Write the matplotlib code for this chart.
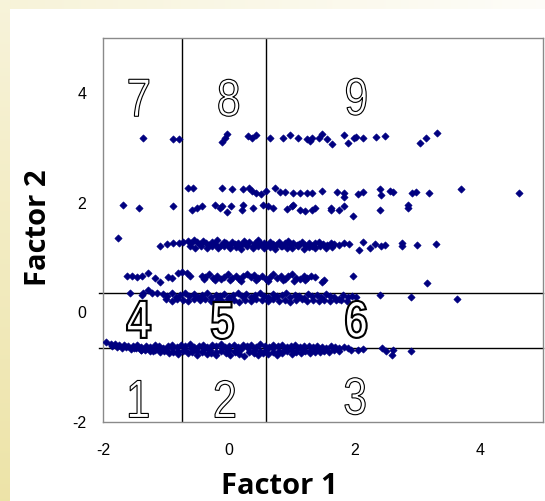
import numpy as np
import matplotlib
matplotlib.use("Agg")
import matplotlib.pyplot as plt
from matplotlib.textpath import TextPath
from matplotlib.patches import PathPatch
from matplotlib.font_manager import FontProperties
from matplotlib.transforms import Affine2D, ScaledTranslation

plt.rcParams["axes.unicode_minus"] = False

# ---------------- data ----------------
band_32 = [(-1.37, 3.18), (-0.89, 3.15), (-0.79, 3.15), (-0.10, 3.11), (-0.06, 3.18), (-0.02, 3.25),
           (0.30, 3.22), (0.37, 3.18), (0.43, 3.24), (0.65, 3.18), (0.86, 3.18), (0.97, 3.24),
           (1.11, 3.18), (1.24, 3.16), (1.29, 3.13), (1.32, 3.18), (1.44, 3.18), (1.49, 3.25),
           (1.57, 3.16), (1.64, 3.07), (1.84, 3.24), (1.90, 3.09), (2.00, 3.18), (2.03, 3.20),
           (2.14, 3.18), (2.35, 3.20), (2.49, 3.22), (3.05, 3.09), (3.14, 3.18), (3.32, 3.27)]

band_22 = [(-0.64, 2.27), (-0.57, 2.27), (-0.10, 2.27), (0.06, 2.25), (0.22, 2.24), (0.32, 2.27),
           (0.37, 2.22), (0.44, 2.18), (0.52, 2.16), (0.59, 2.22), (0.73, 2.27), (0.81, 2.20),
           (0.89, 2.20), (1.02, 2.18), (1.13, 2.18), (1.25, 2.18), (1.32, 2.18), (1.48, 2.22),
           (1.73, 2.20), (1.84, 2.18), (1.84, 2.11), (2.05, 2.16), (2.13, 2.20), (2.41, 2.24),
           (2.43, 2.13), (2.57, 2.22), (2.62, 2.20), (2.92, 2.18), (2.98, 2.20), (3.19, 2.18),
           (3.70, 2.24), (4.62, 2.18)]

band_19 = [(-1.68, 1.96), (-1.43, 1.91), (-0.89, 1.93), (-0.59, 1.86), (-0.51, 1.91), (-0.43, 1.93),
           (-0.22, 1.96), (-0.14, 1.91), (-0.10, 1.93), (-0.02, 1.82), (0.03, 1.93), (0.21, 1.87),
           (0.22, 1.95), (0.38, 1.91), (0.54, 1.96), (0.62, 1.93), (0.70, 1.91), (0.92, 1.89),
           (1.00, 1.93), (1.03, 1.96), (1.14, 1.86), (1.21, 1.84), (1.33, 1.87), (1.37, 1.91),
           (1.62, 1.91), (1.63, 1.86), (1.75, 1.86), (1.84, 1.93), (1.97, 1.75), (2.40, 1.86),
           (2.86, 1.91), (2.86, 1.95)]

band_12 = [(-1.76, 1.35), (-1.10, 1.20), (-0.98, 1.24), (-0.89, 1.27), (-0.79, 1.27), (-0.73, 1.29),
           (-0.65, 1.30), (-0.60, 1.26), (-0.55, 1.32), (-0.50, 1.28), (-0.46, 1.24), (-0.41, 1.30),
           (-0.36, 1.27), (-0.32, 1.22), (-0.27, 1.29), (-0.22, 1.25), (-0.18, 1.31), (-0.13, 1.23),
           (-0.08, 1.28), (-0.04, 1.26), (0.01, 1.21), (0.05, 1.29), (0.10, 1.24), (0.15, 1.27),
           (0.19, 1.22), (0.24, 1.30), (0.28, 1.25), (0.33, 1.28), (0.38, 1.21), (0.42, 1.26),
           (0.47, 1.31), (0.52, 1.24), (0.56, 1.27), (0.61, 1.22), (0.66, 1.29), (0.70, 1.25),
           (0.75, 1.23), (0.80, 1.28), (0.84, 1.20), (0.89, 1.26), (0.94, 1.30), (0.98, 1.24),
           (1.03, 1.27), (1.08, 1.22), (1.12, 1.25), (1.17, 1.29), (1.22, 1.23), (1.27, 1.27),
           (1.32, 1.21), (1.38, 1.26), (1.44, 1.28), (1.50, 1.24), (1.56, 1.22), (1.62, 1.27),
           (1.68, 1.25), (1.75, 1.22), (1.84, 1.26),
           (-0.62, 1.20), (-0.53, 1.18), (-0.44, 1.21), (-0.35, 1.17), (-0.26, 1.20), (-0.17, 1.18),
           (-0.08, 1.21), (0.02, 1.17), (0.11, 1.19), (0.20, 1.16), (0.29, 1.20), (0.38, 1.18),
           (0.47, 1.21), (0.56, 1.17), (0.65, 1.19), (0.74, 1.16), (0.83, 1.20), (0.92, 1.18),
           (1.01, 1.17), (1.10, 1.20), (1.19, 1.16), (1.28, 1.19), (1.37, 1.17), (1.46, 1.20),
           (1.55, 1.18), (1.64, 1.19),
           (1.92, 1.24), (2.08, 1.13), (2.13, 1.29), (2.24, 1.18), (2.32, 1.25), (2.43, 1.20),
           (2.48, 1.22), (2.75, 1.27), (2.75, 1.20), (3.00, 1.22), (3.29, 1.24)]

band_06 = [(-1.62, 0.67), (-1.54, 0.67), (-1.46, 0.64), (-1.38, 0.67), (-1.29, 0.71), (-1.17, 0.62),
           (-1.10, 0.55), (-0.97, 0.64), (-0.90, 0.62), (-0.81, 0.71), (-0.75, 0.73), (-0.67, 0.71),
           (-0.62, 0.67),
           (-0.43, 0.67), (-0.37, 0.64), (-0.31, 0.69), (-0.25, 0.62), (-0.19, 0.66), (-0.13, 0.60),
           (-0.07, 0.65), (-0.01, 0.69), (0.05, 0.63), (0.11, 0.67), (0.17, 0.61), (0.23, 0.66),
           (0.29, 0.70), (0.35, 0.64), (0.41, 0.68), (0.47, 0.62), (0.53, 0.66), (0.59, 0.60),
           (0.65, 0.65), (0.71, 0.69), (0.77, 0.63), (0.83, 0.67), (0.89, 0.61), (0.95, 0.66),
           (1.01, 0.70), (1.07, 0.63), (1.13, 0.60), (1.19, 0.66), (1.25, 0.62), (1.31, 0.67),
           (1.37, 0.64),
           (-0.40, 0.60), (-0.22, 0.58), (0.02, 0.59), (0.20, 0.57), (0.44, 0.58), (0.62, 0.57),
           (0.86, 0.58), (1.04, 0.57), (1.22, 0.58),
           (1.48, 0.56), (1.52, 0.58), (1.97, 0.66), (3.16, 0.53)]

band_03 = [(-1.57, 0.35), (-1.38, 0.31), (-1.37, 0.35), (-1.29, 0.40), (-1.22, 0.36), (-1.14, 0.36),
           (-1.05, 0.33), (-0.98, 0.30), (-0.91, 0.35), (-0.84, 0.28), (-0.77, 0.32), (-0.70, 0.36),
           (-0.63, 0.29), (-0.56, 0.33), (-0.49, 0.27), (-0.42, 0.31), (-0.35, 0.35), (-0.28, 0.28),
           (-0.21, 0.32), (-0.14, 0.30), (-0.07, 0.34), (0.00, 0.27), (0.07, 0.31), (0.14, 0.35),
           (0.21, 0.29), (0.28, 0.33), (0.35, 0.28), (0.42, 0.32), (0.49, 0.36), (0.56, 0.30),
           (0.63, 0.27), (0.70, 0.33), (0.77, 0.29), (0.84, 0.31), (0.91, 0.35), (0.98, 0.28),
           (1.05, 0.32), (1.12, 0.30), (1.19, 0.26), (1.26, 0.33), (1.33, 0.29), (1.40, 0.31),
           (1.47, 0.27), (1.54, 0.34), (1.61, 0.30), (1.68, 0.28), (1.75, 0.25), (1.82, 0.31),
           (1.89, 0.27), (1.96, 0.30), (2.03, 0.28),
           (-1.00, 0.24), (-0.91, 0.21), (-0.82, 0.25), (-0.73, 0.22), (-0.64, 0.20), (-0.55, 0.24),
           (-0.46, 0.22), (-0.37, 0.25), (-0.28, 0.21), (-0.19, 0.23), (-0.10, 0.20), (-0.01, 0.24),
           (0.08, 0.22), (0.17, 0.19), (0.26, 0.23), (0.35, 0.21), (0.44, 0.25), (0.53, 0.22),
           (0.62, 0.20), (0.71, 0.24), (0.80, 0.21), (0.89, 0.23), (0.98, 0.19), (1.07, 0.22),
           (1.16, 0.24), (1.25, 0.20), (1.34, 0.23), (1.43, 0.21), (1.52, 0.22), (1.61, 0.20),
           (1.70, 0.23), (1.79, 0.22), (1.88, 0.21),
           (2.40, 0.31), (2.90, 0.27), (3.63, 0.25)]

band_m07 = [(-1.95, -0.55), (-1.88, -0.57), (-1.81, -0.58), (-1.74, -0.60), (-1.67, -0.59), (-1.60, -0.61),
            (-1.53, -0.62), (-1.46, -0.60), (-1.39, -0.63), (-1.32, -0.61), (-1.25, -0.64), (-1.18, -0.60),
            (-1.11, -0.62), (-1.04, -0.65), (-0.97, -0.61), (-0.90, -0.59), (-0.83, -0.63), (-0.76, -0.60),
            (-0.69, -0.62), (-0.62, -0.58), (-0.55, -0.64), (-0.48, -0.61), (-0.41, -0.59), (-0.34, -0.63),
            (-0.27, -0.60), (-0.20, -0.62), (-0.13, -0.58), (-0.06, -0.64), (0.01, -0.61), (0.08, -0.60),
            (0.15, -0.63), (0.22, -0.59), (0.29, -0.62), (0.36, -0.60), (0.43, -0.64), (0.50, -0.58),
            (0.57, -0.61), (0.64, -0.63), (0.71, -0.60), (0.78, -0.62), (0.85, -0.59), (0.92, -0.64),
            (0.99, -0.61), (1.06, -0.60), (1.13, -0.63), (1.20, -0.61), (1.27, -0.62), (1.34, -0.64),
            (1.41, -0.62), (1.48, -0.63), (1.55, -0.65), (1.62, -0.62), (1.69, -0.64), (1.76, -0.66),
            (1.83, -0.63), (1.90, -0.65),
            (-1.85, -0.62), (-1.78, -0.63), (-1.70, -0.65), (-1.63, -0.64), (-1.55, -0.67), (-1.48, -0.66),
            (-1.40, -0.69), (-1.33, -0.68), (-1.25, -0.71), (-1.18, -0.69), (-1.10, -0.73), (-1.03, -0.70),
            (-0.95, -0.74), (-0.88, -0.72), (-0.80, -0.76), (-0.73, -0.71), (-0.65, -0.75), (-0.58, -0.73),
            (-0.50, -0.77), (-0.43, -0.72), (-0.35, -0.76), (-0.28, -0.74), (-0.20, -0.78), (-0.13, -0.71),
            (-0.05, -0.75), (0.02, -0.77), (0.10, -0.73), (0.17, -0.76), (0.25, -0.79), (0.32, -0.72),
            (0.40, -0.75), (0.47, -0.78), (0.55, -0.74), (0.62, -0.76), (0.70, -0.72), (0.77, -0.77),
            (0.85, -0.74), (0.92, -0.71), (1.00, -0.76), (1.07, -0.73), (1.15, -0.75), (1.22, -0.70),
            (1.30, -0.74), (1.37, -0.72), (1.45, -0.73), (1.52, -0.70), (1.60, -0.72), (1.67, -0.69),
            (1.75, -0.71),
            (-1.50, -0.66), (-1.40, -0.68), (-1.30, -0.65), (-1.20, -0.70), (-1.10, -0.67), (-1.00, -0.69),
            (-0.90, -0.66), (-0.80, -0.71), (-0.70, -0.68), (-0.60, -0.66), (-0.50, -0.70), (-0.40, -0.67),
            (-0.30, -0.69), (-0.20, -0.72), (-0.10, -0.66), (0.00, -0.68), (0.10, -0.70), (0.20, -0.67),
            (0.30, -0.65), (0.40, -0.69), (0.50, -0.71), (0.60, -0.68), (0.70, -0.66), (0.80, -0.70),
            (0.90, -0.67), (1.00, -0.69), (1.10, -0.66), (1.20, -0.68), (1.30, -0.70), (1.40, -0.67),
            (1.50, -0.69),
            (1.95, -0.68), (2.05, -0.69), (2.13, -0.67), (2.44, -0.65), (2.51, -0.71), (2.59, -0.78),
            (2.62, -0.69), (2.90, -0.71)]

bands = [band_32, band_22, band_19, band_12, band_06, band_03, band_m07]

# dividing lines of the 3x3 grid
v_lines = [-0.75, 0.6]
h_lines = [0.35, -0.65]

# region numbers: (label, x, y)
region_labels = [("7", -1.43, 3.91), ("8", 0.0, 3.91), ("9", 2.03, 3.93),
                 ("4", -1.43, -0.13), ("5", -0.10, -0.15), ("6", 2.03, -0.13),
                 ("1", -1.43, -1.58), ("2", -0.06, -1.58), ("3", 2.01, -1.53)]

x_ticks = [-2, 0, 2, 4]
y_ticks = [-2, 0, 2, 4]
x_label = "Factor 1"
y_label = "Factor 2"

# ---------------- figure ----------------
W, H = 545, 501
fig = plt.figure(figsize=(W / 100, H / 100), dpi=100)

# background: pale yellow strips on the left and top, white panel
bg = fig.add_axes([0, 0, 1, 1], zorder=-10)
bg.axis("off")
yy, xx = np.mgrid[0:H, 0:W]
alpha = np.zeros((H, W))
left = xx < 10
alpha[left] = 0.40 + 0.55 * yy[left] / H
top = (yy < 9) & (xx >= 10)
alpha[top] = 0.42 - 0.35 * xx[top] / W
yellow = np.array([236, 226, 163]) / 255.0
img = np.ones((H, W, 3)) * (1 - alpha[..., None]) + yellow * alpha[..., None]
bg.imshow(img, extent=[0, 1, 0, 1], aspect="auto", origin="upper")
bg.set_xlim(0, 1)
bg.set_ylim(0, 1)

ax = fig.add_axes([103 / W, 79 / H, 440 / W, 384 / H])
ax.set_facecolor("white")

for band in bands:
    xs = [p[0] for p in band]
    ys = [p[1] for p in band]
    ax.scatter(xs, ys, marker="D", s=14, color="#000080", linewidths=0.4,
               edgecolors="#000080", zorder=3)

for v in v_lines:
    ax.axvline(v, color="black", lw=1.0, zorder=2)
for h in h_lines:
    ax.plot([-2.06, 5], [h, h], color="black", lw=1.0, zorder=2, clip_on=False)

ax.set_xlim(-2, 5)
ax.set_ylim(-2, 5)
ax.set_xticks(x_ticks)
ax.set_yticks(y_ticks)
ax.tick_params(length=0, labelsize=11.5, colors="black")
ax.tick_params(axis="x", pad=15)
ax.tick_params(axis="y", pad=12)
for lab in ax.get_xticklabels() + ax.get_yticklabels():
    lab.set_family("Liberation Sans")
for s in ax.spines.values():
    s.set_color("#8a8a8a")
    s.set_linewidth(1.0)

# outlined, condensed region numbers
def draw_digit(txt, x, y, lw, weight):
    fp = FontProperties(family="Liberation Sans", weight=weight)
    tp = TextPath((0, 0), txt, size=1, prop=fp)
    ext = tp.get_extents()
    cx = (ext.x0 + ext.x1) / 2
    cy = (ext.y0 + ext.y1) / 2
    h_in = 0.37
    sy = h_in / ext.height
    sx = sy * 0.82
    tr = (Affine2D().translate(-cx, -cy).scale(sx, sy) + fig.dpi_scale_trans
          + ScaledTranslation(x, y, ax.transData))
    patch = PathPatch(tp, facecolor="white", edgecolor="black", lw=lw,
                      transform=tr, zorder=4)
    ax.add_patch(patch)

for t, x, y in region_labels:
    middle = t in ("4", "5", "6")
    draw_digit(t, x, y, 1.5 if middle else 0.8, "bold" if middle else "normal")

fig.text(279 / W, 1 - 487 / H, x_label, ha="center", va="center",
         fontsize=21, fontweight="bold", family="Open Sans")
fig.text(38 / W, 1 - 228 / H, y_label, ha="center", va="center", rotation=90,
         fontsize=21, fontweight="bold", family="Open Sans")

fig.savefig("out.png", dpi=100)
